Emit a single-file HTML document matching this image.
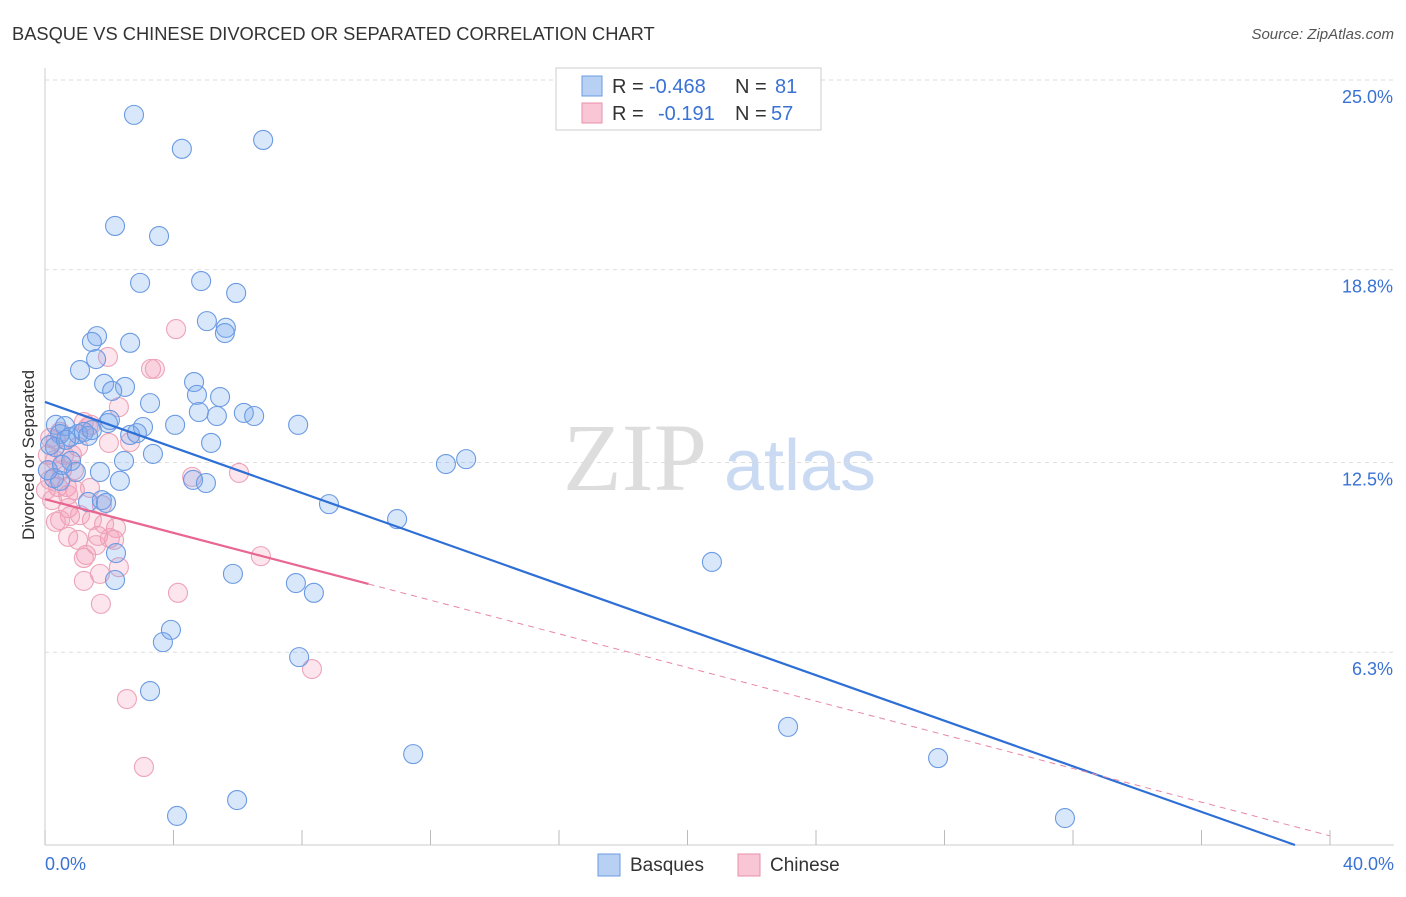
<!DOCTYPE html>
<html><head><meta charset="utf-8"><style>
body{margin:0;background:#fff;font-family:"Liberation Sans",sans-serif}
</style></head><body>
<svg id="c" width="1406" height="892" xmlns="http://www.w3.org/2000/svg" font-family="Liberation Sans, sans-serif">
<text x="12" y="40" font-size="18.3" fill="#333">BASQUE VS CHINESE DIVORCED OR SEPARATED CORRELATION CHART</text>
<text x="1394" y="39" font-size="15" fill="#555" text-anchor="end" font-style="italic">Source: ZipAtlas.com</text>
<text transform="translate(34,455) rotate(-90)" font-size="17" fill="#333" text-anchor="middle">Divorced or Separated</text>
<g><text x="635" y="490" font-size="96" fill="#ddd" font-family="Liberation Serif, serif" text-anchor="middle">ZIP</text><text x="800" y="490" font-size="72" fill="#c9daf2" text-anchor="middle">atlas</text></g>
<g id="grid"></g><g id="pts"></g><g id="lines"></g>
<g>
<rect x="556" y="68" width="265" height="62" fill="#fff" stroke="#ccc"/>
<rect x="582" y="76" width="20" height="20" fill="#b8d0f4" stroke="#6a9be0"/>
<rect x="582" y="103" width="20" height="20" fill="#f9c6d5" stroke="#e98fab"/>
<text x="612" y="93" font-size="20" fill="#333">R =</text><text x="649" y="93" font-size="20" fill="#3a72d4">-0.468</text>
<text x="735" y="93" font-size="20" fill="#333">N =</text><text x="775" y="93" font-size="20" fill="#3a72d4">81</text>
<text x="612" y="120" font-size="20" fill="#333">R =</text><text x="658" y="120" font-size="20" fill="#3a72d4">-0.191</text>
<text x="735" y="120" font-size="20" fill="#333">N =</text><text x="771" y="120" font-size="20" fill="#3a72d4">57</text>
</g>
<g>
<rect x="598" y="854" width="22" height="22" fill="#b8d0f4" stroke="#6a9be0"/><text x="630" y="871" font-size="19" fill="#333">Basques</text>
<rect x="738" y="854" width="22" height="22" fill="#f9c6d5" stroke="#e98fab"/><text x="770" y="871" font-size="19" fill="#333">Chinese</text>
</g>
</svg>
<script>
const yTicks=[25.0,18.8,12.5,6.3];
const yTickLabels=["25.0%","18.8%","12.5%","6.3%"];
const xTickVals=[0,4,8,12,16,20,24,28,32,36,40];
const basqueX=[2.77,4.26,6.79,2.18,3.55,2.96,4.86,5.95,5.04,5.63,5.60,1.62,1.46,2.65,1.59,1.09,1.84,4.64,2.49,2.09,4.73,5.45,3.27,4.79,5.35,6.19,6.51,0.34,0.62,1.96,3.05,4.05,7.88,0.47,0.78,1.03,1.21,1.34,2.65,2.86,5.17,0.31,0.81,3.36,2.46,12.48,13.11,1.71,0.96,0.28,0.47,2.33,4.61,5.01,1.34,1.77,1.90,8.84,10.96,2.21,5.85,2.18,7.81,8.37,20.76,3.92,3.67,7.91,3.27,23.13,11.46,27.80,5.98,4.11,31.75,0.16,0.09,0.53,0.65,1.46,2.02];
const basqueY=[23.86,22.75,23.04,20.23,19.90,18.37,18.43,18.04,17.12,16.90,16.73,16.63,16.44,16.41,15.88,15.52,15.07,15.13,14.97,14.84,14.71,14.64,14.44,14.15,14.02,14.12,14.02,13.73,13.69,13.79,13.66,13.73,13.73,13.43,13.33,13.43,13.50,13.37,13.40,13.46,13.14,13.01,12.55,12.78,12.55,12.45,12.61,12.19,12.19,11.99,11.90,11.90,11.93,11.83,11.21,11.27,11.18,11.14,10.65,9.54,8.86,8.66,8.56,8.24,9.25,7.03,6.63,6.14,5.03,3.86,2.97,2.84,1.47,0.95,0.88,13.07,12.25,12.42,13.24,13.56,13.89];
const chineseX=[4.08,1.96,3.30,3.42,2.30,1.21,1.34,1.43,0.47,0.16,0.59,1.03,0.84,0.31,0.09,0.16,0.03,0.40,0.68,0.93,1.40,0.72,0.72,1.77,0.78,0.47,0.34,2.21,1.84,0.72,1.03,1.65,2.02,2.15,1.59,1.28,1.21,1.71,2.30,1.21,6.04,4.58,2.65,1.99,4.14,6.72,1.74,8.31,2.55,3.08,0.22,0.09,0.53,0.34,0.90,1.09,1.46];
const chineseY=[16.86,15.95,15.56,15.56,14.31,13.82,13.66,13.73,13.50,13.30,12.75,13.01,12.75,12.58,12.25,11.93,11.60,11.70,11.70,11.60,11.67,11.44,11.01,11.11,10.75,10.62,10.56,10.36,10.49,10.07,9.97,10.10,10.03,9.97,9.80,9.48,9.38,8.86,9.08,8.63,12.16,12.03,13.17,13.14,8.24,9.44,7.88,5.75,4.77,2.55,11.27,12.75,12.25,13.24,12.25,10.78,10.62];
const basqueFit=[14.48,-14.48/38.91];
const chineseFit=[11.3,-0.275];
const NS="http://www.w3.org/2000/svg";
const X=v=>45+v*32.125, Y=v=>845-v*30.6;
function mk(t,a,p){const e=document.createElementNS(NS,t);for(const k in a)e.setAttribute(k,a[k]);p.appendChild(e);return e;}
const grid=document.getElementById('grid');
mk('line',{x1:45,y1:68,x2:45,y2:845,stroke:'#ccc'},grid);
mk('line',{x1:45,y1:845,x2:1394,y2:845,stroke:'#ccc'},grid);
yTicks.forEach((t,i)=>{const g=mk('line',{x1:45,y1:Y(t),x2:1394,y2:Y(t),stroke:'#ddd','stroke-dasharray':'4,4'},grid);


const tx=mk('text',{x:1393,y:Y(t)+23,'font-size':18,fill:'#3a72d4','text-anchor':'end'},grid);tx.textContent=yTickLabels[i];

});
xTickVals.forEach(v=>{const l=mk('line',{x1:X(v),y1:845,x2:X(v),y2:830,stroke:'#bbb'},grid);

});
[[0,'0.0%','start',45],[40,'40.0%','end',1394]].forEach(a=>{const t=mk('text',{x:a[3],y:870,'font-size':18,fill:'#3a72d4','text-anchor':a[2]},grid);t.textContent=a[1];

});
const pts=document.getElementById('pts');
chineseX.forEach((x,i)=>{const c=mk('circle',{cx:X(x),cy:Y(chineseY[i]),r:9.5,fill:'rgba(242,150,178,0.25)',stroke:'#eda3b9','stroke-width':1.1},pts);

});
basqueX.forEach((x,i)=>{const c=mk('circle',{cx:X(x),cy:Y(basqueY[i]),r:9.5,fill:'rgba(120,168,238,0.28)',stroke:'#6b9ae2','stroke-width':1.1},pts);

});
const ln=document.getElementById('lines');
const bx=-basqueFit[0]/basqueFit[1];
const b=mk('line',{x1:X(0),y1:Y(basqueFit[0]),x2:X(bx),y2:Y(0),stroke:'#2e6fd6','stroke-width':2.2},ln);


const c1=mk('line',{x1:X(0),y1:Y(chineseFit[0]),x2:X(10.07),y2:Y(chineseFit[0]+chineseFit[1]*10.07),stroke:'#e86690','stroke-width':2.2},ln);


const c2=mk('line',{x1:X(10.07),y1:Y(chineseFit[0]+chineseFit[1]*10.07),x2:X(40),y2:Y(chineseFit[0]+chineseFit[1]*40),stroke:'#e886a5','stroke-width':1,'stroke-dasharray':'6,5'},ln);


</script>
</body></html>
